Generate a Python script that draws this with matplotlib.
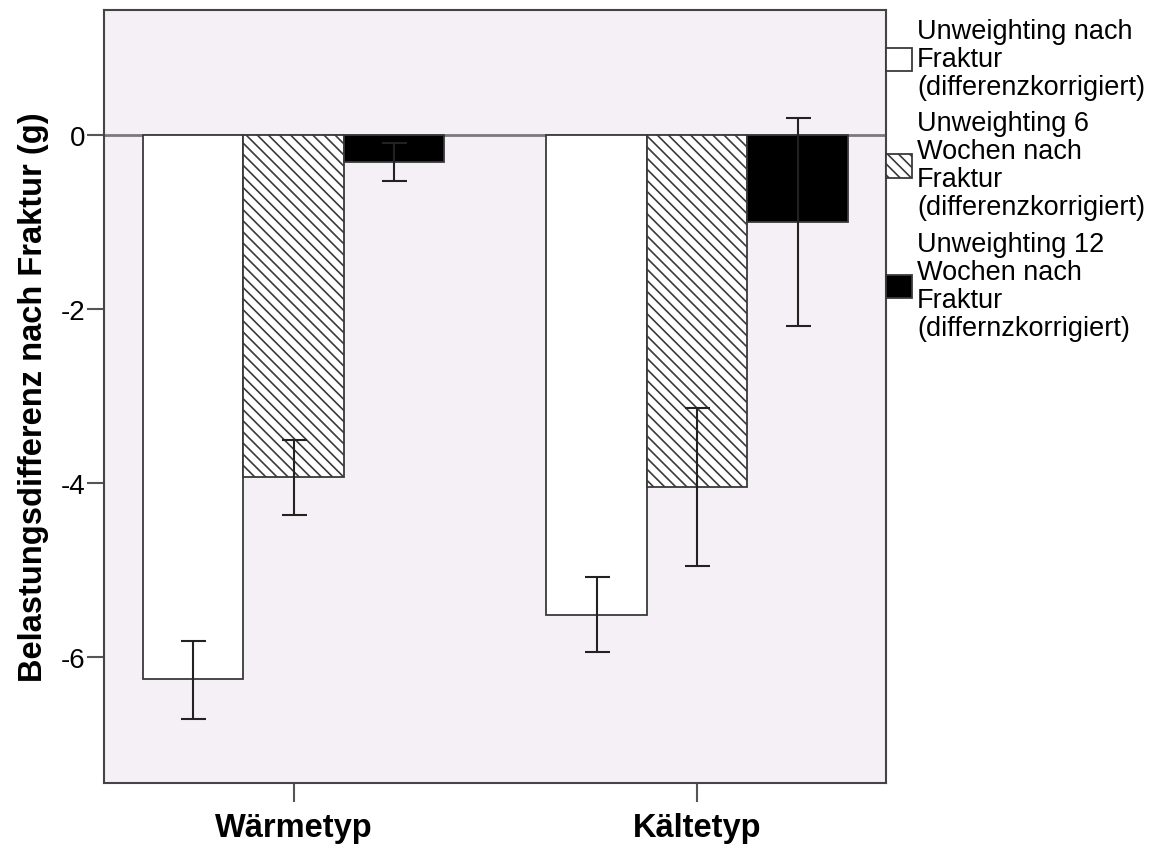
import numpy as np
import matplotlib.pyplot as plt
from matplotlib.patches import Patch

plt.rcParams['font.family'] = ['Liberation Sans', 'DejaVu Sans']
plt.rcParams['hatch.linewidth'] = 1.2
plt.rcParams['hatch.color'] = '#333333'

groups = ["Wärmetyp", "Kältetyp"]
series = ["Unweighting nach\nFraktur\n(differenzkorrigiert)",
          "Unweighting 6\nWochen nach\nFraktur\n(differenzkorrigiert)",
          "Unweighting 12\nWochen nach\nFraktur\n(differnzkorrigiert)"]
# mean values per series (rows) and group (cols)
means = [[-6.25, -5.52],
         [-3.93, -4.04],
         [-0.31, -1.00]]
err_low = [[-6.71, -5.94],
           [-4.37, -4.95],
           [-0.53, -2.20]]
err_high = [[-5.82, -5.08],
            [-3.51, -3.14],
            [-0.09, 0.20]]
yticks = [0, -2, -4, -6]

W, H = 1161, 845
fig = plt.figure(figsize=(W / 100, H / 100), dpi=100)
ax = fig.add_axes([104 / W, 1 - 784 / H, (886 - 104) / W, (784 - 11) / H])
ax.set_facecolor('#F5F0F5')

faces = ['white', 'white', 'black']
hatches = [None, '\\\\\\', None]
width = 0.249
x = np.arange(len(groups))
handles = []
for i in range(3):
    pos = x + (i - 1) * width
    m = np.array(means[i])
    lo = m - np.array(err_low[i])
    hi = np.array(err_high[i]) - m
    ax.bar(pos, m, width, color=faces[i], edgecolor='#3a3a3a', linewidth=1.3,
           hatch=hatches[i], zorder=2)
    ax.errorbar(pos, m, yerr=[lo, hi], fmt='none', ecolor='#222222',
                elinewidth=1.5, capsize=9, capthick=1.5, zorder=3)
    handles.append(Patch(facecolor=faces[i], edgecolor='#3a3a3a', linewidth=1.3,
                         hatch=hatches[i]))

ax.axhline(0, color='#7a7a7a', linewidth=2, zorder=1)

ax.set_xlim(-0.4696, 1.468)
ax.set_ylim(-7.448, 1.437)
ax.set_xticks(x)
ax.set_xticklabels(groups, fontsize=23.5, fontweight='bold')
ax.set_yticks(yticks)
ax.set_yticklabels([str(v) for v in yticks], fontsize=20)
ax.tick_params(axis='x', length=14, width=1.5, color='#555555', pad=7)
ax.tick_params(axis='y', length=12.5, width=1.5, color='#555555', pad=1)
for s in ax.spines.values():
    s.set_linewidth(1.5)
    s.set_color('#444444')
ax.set_ylabel("Belastungsdifferenz nach Fraktur (g)", fontsize=23.5, fontweight='bold',
              labelpad=8)

leg = fig.legend(handles, series, loc='upper left',
                 bbox_to_anchor=(886 / W, 1 - 19 / H), frameon=False,
                 fontsize=19.5, handlelength=0.95, handleheight=0.95,
                 handletextpad=0.2, labelspacing=0.38, borderpad=0,
                 borderaxespad=0)
for t in leg.get_texts():
    t.set_linespacing(1.1)

fig.savefig('out.png', dpi=100)
